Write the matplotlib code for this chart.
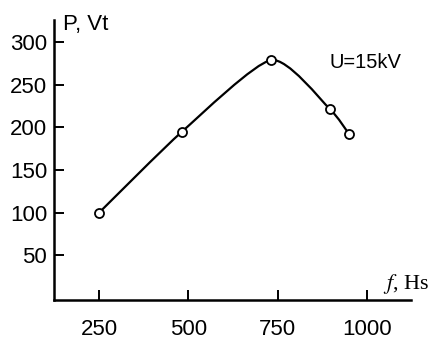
import matplotlib
matplotlib.use("Agg")
import matplotlib.pyplot as plt
from matplotlib.path import Path
from matplotlib.patches import PathPatch

# frequency (Hs) and power (Vt)
freq = [250, 482, 732, 895, 950]
power = [100, 195, 279, 222, 192]
xticks = [250, 500, 750, 1000]
yticks = [50, 100, 150, 200, 250, 300]

plt.rcParams['font.family'] = ['Liberation Sans', 'DejaVu Sans']
plt.rcParams['mathtext.fontset'] = 'stix'

fig = plt.figure(figsize=(4.35, 3.4), dpi=100)
ax = fig.add_axes([54 / 435, 1 - 300 / 340, (411 - 54) / 435, (300 - 20) / 340])

# smooth curve through the points (catmull-rom -> bezier segments)
k = 1 / 9  # lower tension than plain catmull-rom
pts = list(zip(freq, power))
ext = [pts[0]] + pts + [pts[-1]]
verts = [pts[0]]
codes = [Path.MOVETO]
for i in range(1, len(ext) - 2):
    p0, p1, p2, p3 = ext[i - 1], ext[i], ext[i + 1], ext[i + 2]
    c1 = (p1[0] + (p2[0] - p0[0]) * k, p1[1] + (p2[1] - p0[1]) * k)
    c2 = (p2[0] - (p3[0] - p1[0]) * k, p2[1] - (p3[1] - p1[1]) * k)
    verts += [c1, c2, p2]
    codes += [Path.CURVE4] * 3
ax.add_patch(PathPatch(Path(verts, codes), facecolor='none',
                       edgecolor='black', lw=1.6, zorder=2))

ax.plot(freq, power, 'o', ms=6.5, mfc='white', mec='black', mew=1.3, zorder=3)

ax.set_xlim(124, 1123)
ax.set_ylim(-2.3, 326)
ax.set_xticks(xticks)
ax.set_yticks(yticks)
ax.tick_params(direction='in', length=7, width=1.4, labelsize=16, pad=5)
ax.tick_params(axis='x', pad=14)
for s in ['top', 'right']:
    ax.spines[s].set_visible(False)
for s in ['left', 'bottom']:
    ax.spines[s].set_linewidth(1.8)

fig.text(63 / 435, 1 - 30 / 340, 'P, Vt', fontsize=16, ha='left', va='baseline')
fig.text(365 / 435, 1 - 62 / 340, 'U=15kV', fontsize=14.5, ha='center', va='center')
fig.text(383 / 435, 1 - 289 / 340, '$f$, Hs', fontsize=16, family='Liberation Serif',
         ha='left', va='baseline')

fig.savefig('out.png', dpi=100)
